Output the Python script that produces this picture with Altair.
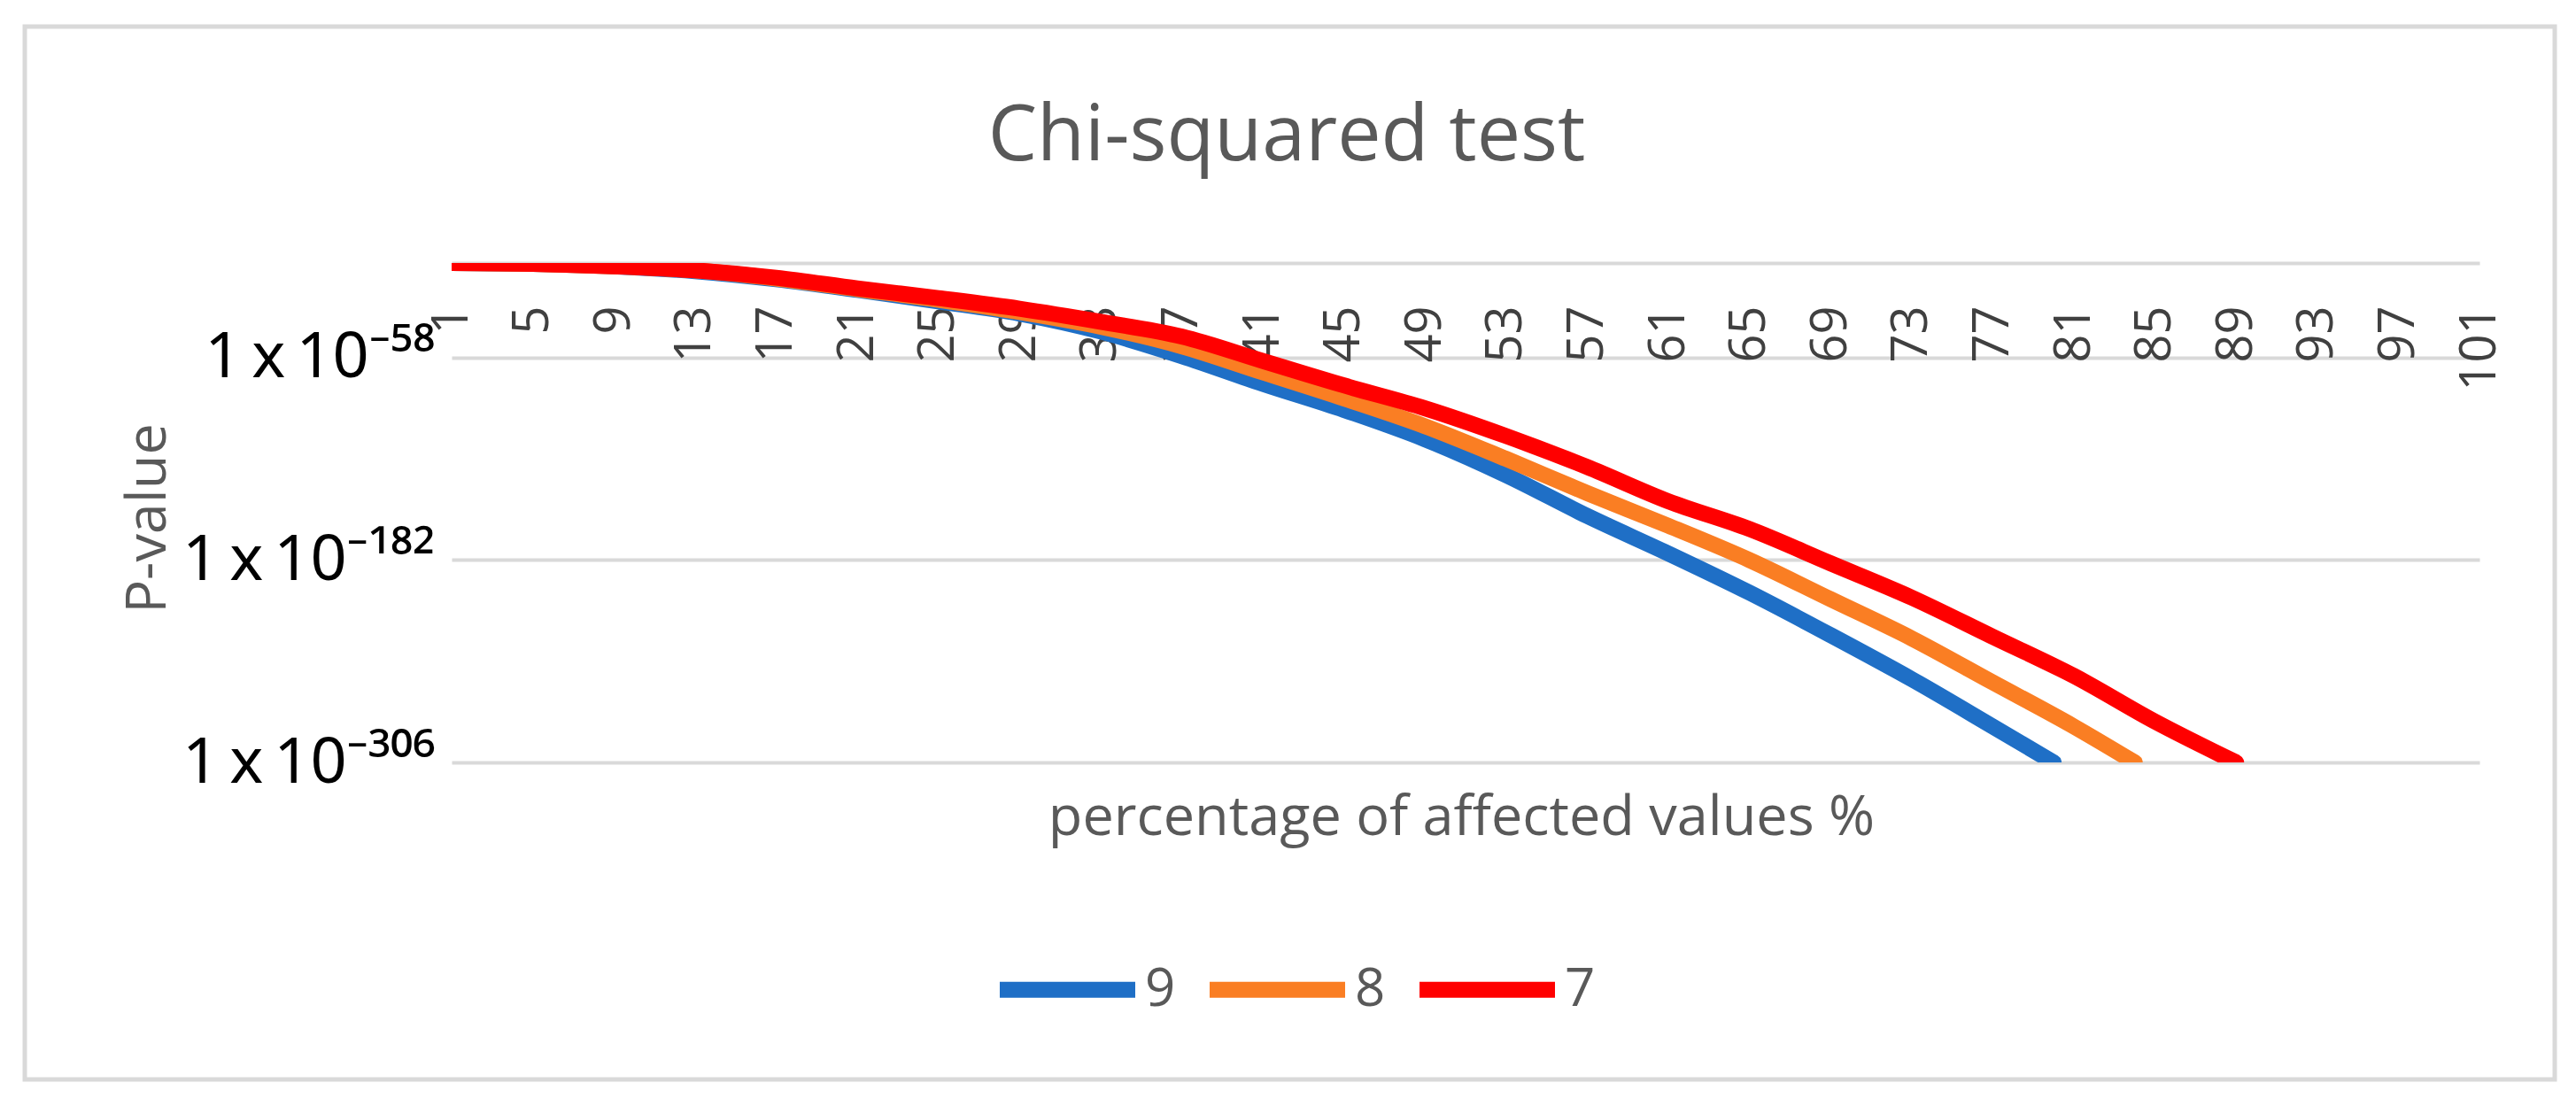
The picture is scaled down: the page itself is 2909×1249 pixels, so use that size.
import altair as alt
import pandas as pd

# ---- data (exponent of the p-value, i.e. log10 p) ----
series_names = ["9", "8", "7"]
series_colors = ["#1F6FC6", "#FA7E23", "#FF0000"]

x9 = [1, 5, 9, 13, 17, 21, 25, 29, 33, 37, 41, 45, 49, 53, 57, 61, 65, 69, 73, 77, 80]
y9 = [0, -0.5, -2, -5, -10, -16.5, -23.5, -31, -42, -57, -74, -90, -108, -130, -155, -178, -202, -228, -255, -284, -306]

x8 = [1, 5, 9, 13, 17, 21, 25, 29, 33, 37, 41, 45, 49, 53, 57, 61, 65, 69, 73, 77, 81, 84]
y8 = [0, -0.5, -2, -4.5, -9.5, -16, -22.5, -30, -39, -51, -67, -83, -100, -120, -141, -161, -182, -206, -230, -257, -284, -306]

x7 = [1, 5, 9, 13, 17, 21, 25, 29, 33, 37, 41, 45, 49, 53, 57, 61, 65, 69, 73, 77, 81, 85, 89]
y7 = [0, -0.5, -2, -4.5, -9, -15.5, -21.5, -28, -36, -45, -60, -75, -89, -106, -125, -146, -163, -184, -205, -229, -253, -281, -306]

x_ticks = list(range(1, 102, 4))
y_tick_values = [0, -58, -182, -306]
y_tick_labels = [
    "",
    "1\u2009x\u200910\u207b\u2075\u2078",
    "1\u2009x\u200910\u207b\u00b9\u2078\u00b2",
    "1\u2009x\u200910\u207b\u00b3\u2070\u2076",
]

title_text = "Chi-squared test"
x_title = "percentage of affected values %"
y_title = "P-value"

rows = []
for name, xs, ys in [("9", x9, y9), ("8", x8, y8), ("7", x7, y7)]:
    for a, b in zip(xs, ys):
        rows.append({"series": name, "x": a, "y": b})
df = pd.DataFrame(rows)

# label expression from the tick label list
expr = "''"
for v, lab in zip(reversed(y_tick_values), reversed(y_tick_labels)):
    expr = f"datum.value == {v} ? '{lab}' : ({expr})"

W, H = 2290, 564
GRAY = "#595959"

x_enc = alt.X(
    "x:Q",
    scale=alt.Scale(domain=[1, 101], nice=False, zero=False),
    axis=alt.Axis(
        values=x_ticks, format="d", labelAngle=-90, labelAlign="right", labelBaseline="middle",
        labelPadding=-516, ticks=False, tickSize=0, domain=False, grid=False,
        labelFont="Open Sans", labelFontSize=56, labelColor="#404040",
        labelOverlap=False, labelFlush=False, labelLimit=0,
        title=x_title, titleFont="Open Sans", titleFontSize=63, titleFontWeight="normal",
        titleColor=GRAY, titleX=1140, titleY=81, titleBaseline="alphabetic", titleAlign="center",
    ),
)
y_enc = alt.Y(
    "y:Q",
    scale=alt.Scale(domain=[-306, 0], nice=False, zero=False),
    axis=alt.Axis(
        values=y_tick_values, labelExpr=expr, grid=True, gridColor="#D9D9D9", gridWidth=4,
        domain=False, ticks=False, tickSize=0, labelPadding=19, labelLimit=0,
        labelFont="Noto Sans", labelFontSize=72, labelColor="#000000",
        labelBaseline="middle", labelOverlap=False, labelFlush=False,
        title=y_title, titleFont="Open Sans", titleFontSize=63, titleFontWeight="normal",
        titleColor=GRAY, titleAngle=270, titleX=-343, titleY=288,
        titleBaseline="middle", titleAlign="center",
    ),
)
color_enc = alt.Color(
    "series:N",
    scale=alt.Scale(domain=series_names, range=series_colors),
    legend=alt.Legend(
        title=None, orient="none", legendX=610, legendY=735, direction="horizontal",
        symbolType="stroke", symbolSize=23409, symbolStrokeWidth=18,
        labelFont="Open Sans", labelFontSize=60, labelColor=GRAY, labelOffset=2,
        columnPadding=2,
    ),
)

frame = alt.Chart(alt.Data(values=[{"f": 1}])).mark_rect(
    stroke="#D9D9D9", strokeWidth=5, fillOpacity=0, fill="white"
).encode(
    x=alt.value(-482), x2=alt.value(2375), y=alt.value(-267), y2=alt.value(922)
)

layers = [frame]
for name in series_names:
    layers.append(
        alt.Chart(df).transform_filter(alt.datum.series == name).mark_line(
            strokeWidth=18, strokeCap="round", strokeJoin="round", clip=True,
            interpolate="monotone",
        ).encode(x=x_enc, y=y_enc, color=color_enc)
    )

chart = alt.layer(*layers).properties(
    width=W, height=H,
    padding={"left": 502, "top": 289, "right": 90, "bottom": 361},
    autosize=alt.AutoSizeParams(type="none"),
    title=alt.TitleParams(
        text=title_text, font="Open Sans", fontSize=88, fontWeight="normal", color=GRAY,
        anchor="middle", baseline="alphabetic", offset=0, dx=-202, dy=241,
    ),
).configure_view(strokeWidth=0)

chart.save("out.html", embed_options={"renderer": "svg", "actions": False})
